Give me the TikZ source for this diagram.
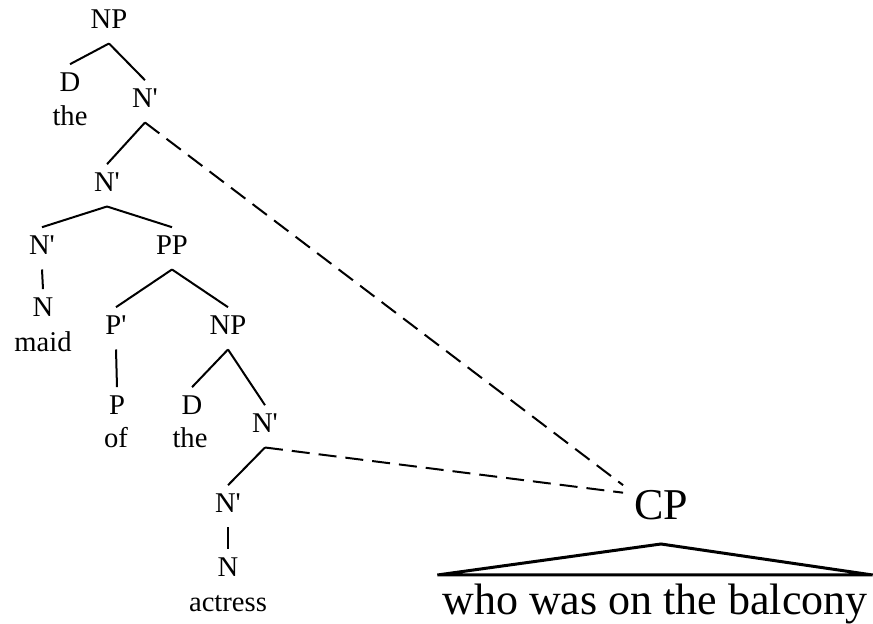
\documentclass[tikz,border=0pt]{standalone}
\usepackage{fontspec}
\setmainfont{Liberation Serif}
\newcommand{\prm}{\textquotesingle}

\begin{document}
\begin{tikzpicture}
      [x=0.5pt, y=-0.5pt, line width=1pt,
       cat/.style={font=\fontsize{14.3}{17}\selectfont, anchor=base, inner xsep=1pt, inner ysep=4pt, text height=9.4pt, text depth=2.75pt},
       big/.style={font=\fontsize{22}{26}\selectfont, anchor=base, inner xsep=5pt, inner ysep=2.5pt, text height=14.4pt, text depth=9pt},
       link/.style={dash pattern=on 9pt off 4.5pt}]
      \useasboundingbox (0, 0) rectangle (873, 624);
      \node[cat](1) at (109, 29) {NP};
      \node[cat](2) at (70, 92) {D};
      \node[cat](3) at (70, 126) {the};
      \node[cat](4) at (145, 108) {N\prm};
      \node[cat](5) at (107, 192) {N\prm};
      \node[cat](6) at (42, 255) {N\prm};
      \node[cat](7) at (43, 317) {N};
      \node[cat](8) at (43, 352) {maid};
      \node[cat](9) at (172, 255) {PP};
      \node[cat](10) at (116, 335) {P\prm};
      \node[cat](11) at (117, 415) {P};
      \node[cat](12) at (116, 448) {of};
      \node[cat](13) at (228, 335) {NP};
      \node[cat](14) at (192, 415) {D};
      \node[cat](15) at (190, 448) {the};
      \node[cat](16) at (265, 433) {N\prm};
      \node[cat](17) at (228, 513) {N\prm};
      \node[cat](18) at (228, 577) {N};
      \node[cat](19) at (228, 612) {actress};
      \node[big](20) at (661, 520) {CP};
      \node[big, inner xsep=2pt, text height=17pt, text depth=5pt](21) at (655, 615) {who was on the balcony};
      \draw(1.south) -- (2.north);
      \draw(1.south) -- (4.north);
      \draw(4.south) -- (5.north);
      \draw(5.south) -- (6.north);
      \draw(5.south) -- (9.north);
      \draw(6.south) -- (7.north);
      \draw(9.south) -- (10.north);
      \draw(9.south) -- (13.north);
      \draw(10.south) -- (11.north);
      \draw(13.south) -- (14.north);
      \draw(13.south) -- (16.north);
      \draw(16.south) -- (17.north);
      \draw(17.south) -- (18.north);
      \draw[link](4.south) -- (20.north west);
      \draw[link](16.south) -- (20.150);
      \draw[line width=1.5pt](20.south) -- (21.north east) -- (21.north west) -- cycle;
  \end{tikzpicture}
\end{document}
